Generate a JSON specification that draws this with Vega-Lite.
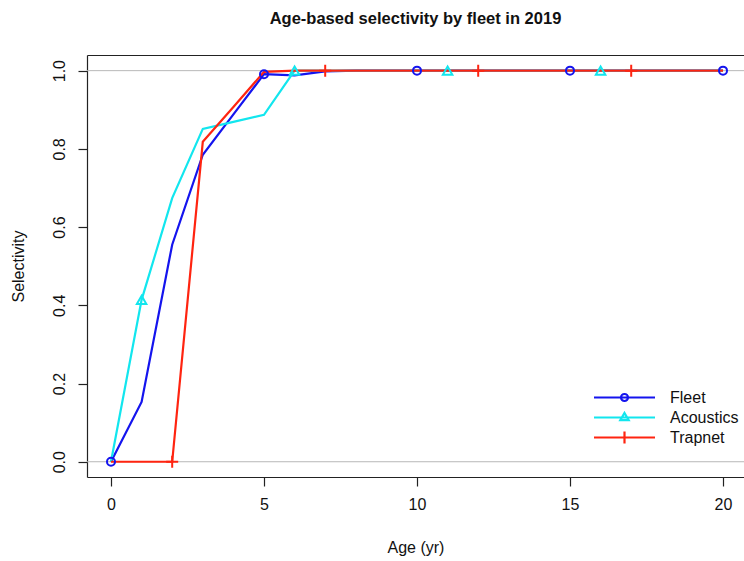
{
  "$schema": "https://vega.github.io/schema/vega-lite/v6.json",
  "width": 657,
  "height": 422,
  "autosize": {"type": "none"},
  "padding": {"left": 87, "top": 55, "right": 0, "bottom": 84},
  "background": "white",
  "config": {
    "view": {"stroke": null},
    "font": "Liberation Sans",
    "axis": {
      "grid": false,
      "labelFont": "Liberation Sans",
      "titleFont": "Liberation Sans",
      "labelFontSize": 16,
      "titleFontSize": 16,
      "titleFontWeight": "normal",
      "labelColor": "#111111",
      "titleColor": "#111111",
      "domainColor": "#222222",
      "tickColor": "#222222",
      "tickSize": 9,
      "labelPadding": 10,
      "domainWidth": 1.2,
      "tickWidth": 1.2
    }
  },
  "title": {
    "text": "Age-based selectivity by fleet in 2019",
    "font": "Liberation Sans",
    "fontSize": 16.5,
    "fontWeight": "bold",
    "color": "#111111",
    "anchor": "middle",
    "offset": 28
  },
  "datasets": {
    "sel": [
      {"fleet": "Fleet", "age": 0, "sel": 0},
      {"fleet": "Fleet", "age": 1, "sel": 0.153},
      {"fleet": "Fleet", "age": 2, "sel": 0.555},
      {"fleet": "Fleet", "age": 3, "sel": 0.785},
      {"fleet": "Fleet", "age": 4, "sel": 0.888},
      {"fleet": "Fleet", "age": 5, "sel": 0.991},
      {"fleet": "Fleet", "age": 6, "sel": 0.988},
      {"fleet": "Fleet", "age": 7, "sel": 0.998},
      {"fleet": "Fleet", "age": 8, "sel": 1},
      {"fleet": "Fleet", "age": 9, "sel": 1},
      {"fleet": "Fleet", "age": 10, "sel": 1},
      {"fleet": "Fleet", "age": 11, "sel": 1},
      {"fleet": "Fleet", "age": 12, "sel": 1},
      {"fleet": "Fleet", "age": 13, "sel": 1},
      {"fleet": "Fleet", "age": 14, "sel": 1},
      {"fleet": "Fleet", "age": 15, "sel": 1},
      {"fleet": "Fleet", "age": 16, "sel": 1},
      {"fleet": "Fleet", "age": 17, "sel": 1},
      {"fleet": "Fleet", "age": 18, "sel": 1},
      {"fleet": "Fleet", "age": 19, "sel": 1},
      {"fleet": "Fleet", "age": 20, "sel": 1},
      {"fleet": "Acoustics", "age": 0, "sel": 0},
      {"fleet": "Acoustics", "age": 1, "sel": 0.414},
      {"fleet": "Acoustics", "age": 2, "sel": 0.674},
      {"fleet": "Acoustics", "age": 3, "sel": 0.851},
      {"fleet": "Acoustics", "age": 4, "sel": 0.869},
      {"fleet": "Acoustics", "age": 5, "sel": 0.887},
      {"fleet": "Acoustics", "age": 6, "sel": 1},
      {"fleet": "Acoustics", "age": 7, "sel": 1},
      {"fleet": "Acoustics", "age": 8, "sel": 1},
      {"fleet": "Acoustics", "age": 9, "sel": 1},
      {"fleet": "Acoustics", "age": 10, "sel": 1},
      {"fleet": "Acoustics", "age": 11, "sel": 1},
      {"fleet": "Acoustics", "age": 12, "sel": 1},
      {"fleet": "Acoustics", "age": 13, "sel": 1},
      {"fleet": "Acoustics", "age": 14, "sel": 1},
      {"fleet": "Acoustics", "age": 15, "sel": 1},
      {"fleet": "Acoustics", "age": 16, "sel": 1},
      {"fleet": "Acoustics", "age": 17, "sel": 1},
      {"fleet": "Acoustics", "age": 18, "sel": 1},
      {"fleet": "Acoustics", "age": 19, "sel": 1},
      {"fleet": "Acoustics", "age": 20, "sel": 1},
      {"fleet": "Trapnet", "age": 0, "sel": 0},
      {"fleet": "Trapnet", "age": 1, "sel": 0},
      {"fleet": "Trapnet", "age": 2, "sel": 0},
      {"fleet": "Trapnet", "age": 3, "sel": 0.818},
      {"fleet": "Trapnet", "age": 4, "sel": 0.907},
      {"fleet": "Trapnet", "age": 5, "sel": 0.997},
      {"fleet": "Trapnet", "age": 6, "sel": 1},
      {"fleet": "Trapnet", "age": 7, "sel": 1},
      {"fleet": "Trapnet", "age": 8, "sel": 1},
      {"fleet": "Trapnet", "age": 9, "sel": 1},
      {"fleet": "Trapnet", "age": 10, "sel": 1},
      {"fleet": "Trapnet", "age": 11, "sel": 1},
      {"fleet": "Trapnet", "age": 12, "sel": 1},
      {"fleet": "Trapnet", "age": 13, "sel": 1},
      {"fleet": "Trapnet", "age": 14, "sel": 1},
      {"fleet": "Trapnet", "age": 15, "sel": 1},
      {"fleet": "Trapnet", "age": 16, "sel": 1},
      {"fleet": "Trapnet", "age": 17, "sel": 1},
      {"fleet": "Trapnet", "age": 18, "sel": 1},
      {"fleet": "Trapnet", "age": 19, "sel": 1},
      {"fleet": "Trapnet", "age": 20, "sel": 1}
    ],
    "refs": [{"sel": 0}, {"sel": 1}]
  },
  "encoding": {
    "y": {
      "field": "sel",
      "type": "quantitative",
      "scale": {"domain": [-0.039, 1.04], "nice": false, "zero": false},
      "axis": {
        "title": "Selectivity",
        "values": [0, 0.2, 0.4, 0.6, 0.8, 1.0],
        "format": ".1f",
        "labelAngle": 270,
        "labelAlign": "center",
        "labelBaseline": "bottom",
        "labelPadding": 11,
        "titlePadding": 25
      }
    }
  },
  "layer": [
    {
      "data": {"name": "refs"},
      "mark": {"type": "rule", "color": "#b8b8b8", "strokeWidth": 1}
    },
    {
      "data": {"name": "sel"},
      "mark": {"type": "line", "strokeWidth": 2.2},
      "encoding": {
        "x": {
          "field": "age",
          "type": "quantitative",
          "scale": {"domain": [-0.784, 20.686], "nice": false, "zero": false},
          "axis": {"title": "Age (yr)", "values": [0, 5, 10, 15, 20], "titlePadding": 27, "orient": "bottom"}
        },
        "color": {
          "field": "fleet",
          "type": "nominal",
          "scale": {"domain": ["Fleet", "Acoustics", "Trapnet"], "range": ["#1414ee", "#12e6ee", "#ff2410"]},
          "legend": {
            "orient": "none",
            "legendX": 526,
            "legendY": 331,
            "title": null,
            "padding": 0,
            "rowPadding": 0,
            "labelFont": "Liberation Sans",
            "labelFontSize": 16,
            "labelColor": "#111111",
            "labelOffset": 34,
            "labelLimit": 200,
            "symbolSize": 400,
            "symbolStrokeWidth": 2.2,
            "encode": {
              "symbols": {
                "update": {
                  "shape": {"signal": "datum.value === 'Fleet' ? 'M-3.05,0H3.05M-0.35,0A0.35,0.35,0,1,1,0.35,0A0.35,0.35,0,1,1,-0.35,0' : datum.value === 'Acoustics' ? 'M-3.05,0H3.05M0,-0.45L0.42,0.27L-0.42,0.27Z' : 'M-3.05,0H3.05M0,-0.6V0.6'"},
                  "fill": {"value": "transparent"}
                }
              }
            }
          }
        }
      }
    },
    {
      "data": {"name": "sel"},
      "transform": [
        {"filter": "datum.fleet === 'Fleet' && datum.age % 5 == 0"}
      ],
      "mark": {"type": "point", "shape": "circle", "size": 64, "filled": false, "strokeWidth": 2, "opacity": 1},
      "encoding": {
        "x": {
          "field": "age",
          "type": "quantitative",
          "scale": {"domain": [-0.784, 20.686], "nice": false, "zero": false},
          "axis": {"orient": "top", "labels": false, "ticks": false, "title": null, "domain": true}
        },
        "color": {"field": "fleet", "type": "nominal"}
      }
    },
    {
      "data": {"name": "sel"},
      "transform": [
        {"filter": "datum.fleet === 'Acoustics' && (datum.age - 1) % 5 == 0"}
      ],
      "mark": {"type": "point", "shape": "triangle-up", "size": 90, "filled": false, "strokeWidth": 2, "opacity": 1},
      "encoding": {
        "x": {
          "field": "age",
          "type": "quantitative",
          "scale": {"domain": [-0.784, 20.686], "nice": false, "zero": false},
          "axis": null
        },
        "color": {"field": "fleet", "type": "nominal"}
      }
    },
    {
      "data": {"name": "sel"},
      "transform": [
        {"filter": "datum.fleet === 'Trapnet' && (datum.age - 2) % 5 == 0"}
      ],
      "mark": {"type": "point", "shape": "M0,-1V1M-1,0H1", "size": 144, "filled": false, "strokeWidth": 2, "opacity": 1},
      "encoding": {
        "x": {
          "field": "age",
          "type": "quantitative",
          "scale": {"domain": [-0.784, 20.686], "nice": false, "zero": false},
          "axis": null
        },
        "color": {"field": "fleet", "type": "nominal"}
      }
    }
  ],
  "resolve": {"axis": {"x": "independent"}}
}
